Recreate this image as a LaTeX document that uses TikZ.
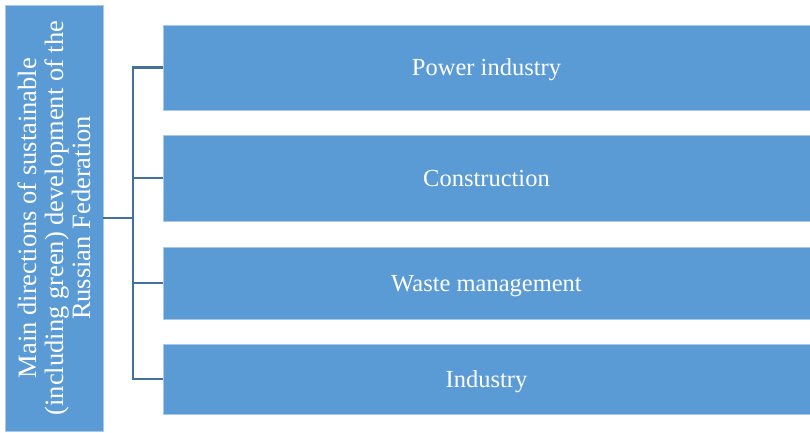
\documentclass[tikz,border=0pt]{standalone}
\usepackage{fontspec}
\setmainfont{Liberation Serif}
\usepackage{tikz}

\definecolor{boxblue}{RGB}{91,155,213}
\definecolor{boxedge}{RGB}{170,200,232}
\definecolor{linkblue}{RGB}{65,113,156}

\begin{document}
\begin{tikzpicture}[x=1pt,y=1pt,
		area/.style={draw=boxedge,line width=0.6pt,fill=boxblue,text=white,
			font=\fontsize{24.5}{27}\selectfont,inner sep=0pt},
		item/.style={area,minimum width=647,text depth=0pt},
		link/.style={draw=linkblue,line width=2.6pt}]
	
		\useasboundingbox (0,0) rectangle (810,432);
		\node[area,minimum width=426,minimum height=98,rotate=90,align=center,
			font=\fontsize{26.5}{27}\selectfont] (main) at (54,214)
			{Main directions of sustainable\\(including green) development of the\\Russian Federation};
		\node[item,minimum height=85] (p1) at (486.5,364.5) {Power industry};
		\node[item,minimum height=86] (p2) at (486.5,254) {Construction};
		\node[item,minimum height=72] (p3) at (486.5,149) {Waste management};
		\node[item,minimum height=70] (p4) at (486.5,53) {Industry};
		\coordinate (h) at (133,214);
		\draw[link] (main.south) -- (h);
		\draw[link] (p1.west) -- (h |- p1.west) -- (h |- p4.west) -- (p4.west);
		\draw[link] (h |- p2.west) -- (p2.west);
		\draw[link] (h |- p3.west) -- (p3.west);
	\end{tikzpicture}
\end{document}
